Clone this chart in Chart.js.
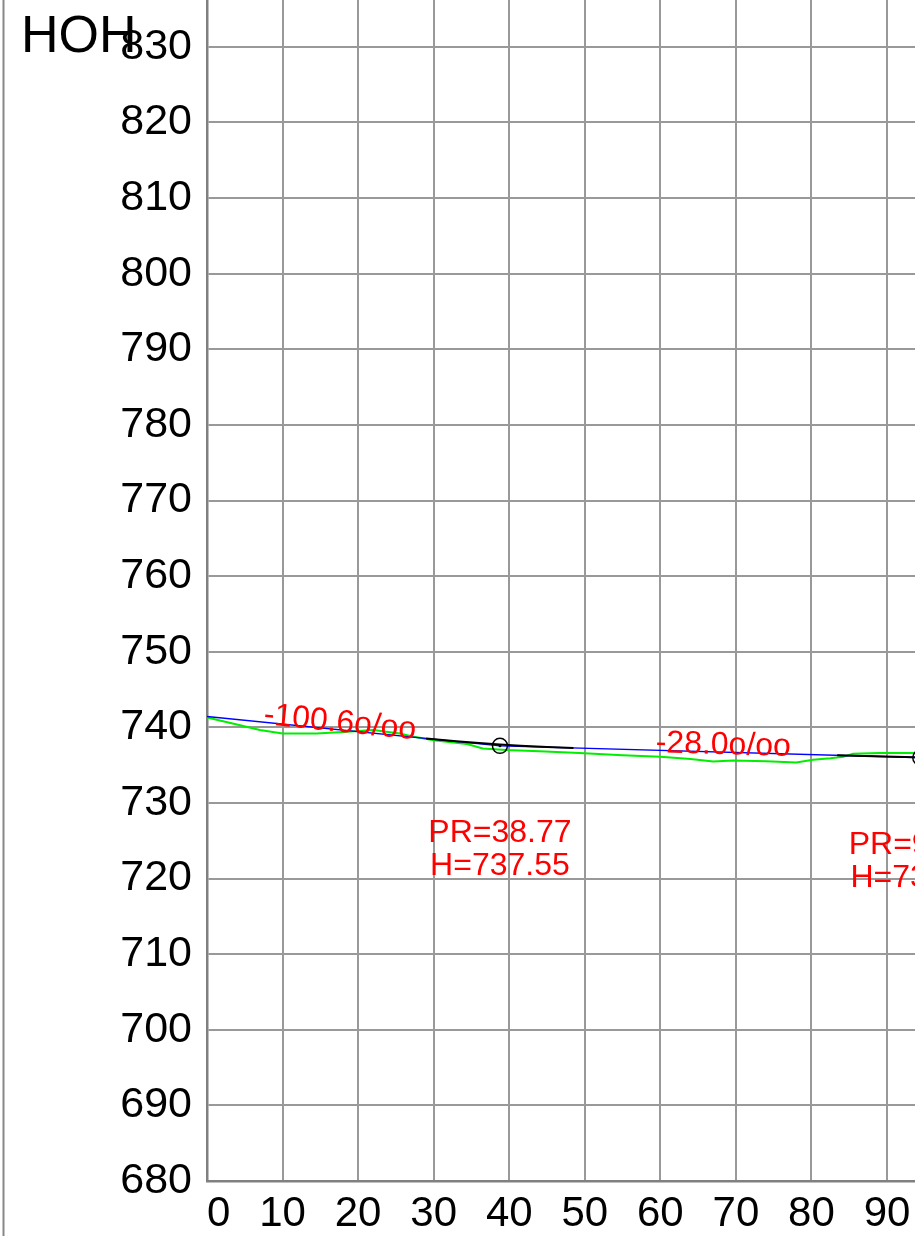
<!DOCTYPE html>
<html>
<head>
<meta charset="utf-8">
<script src="https://cdn.jsdelivr.net/npm/chart.js@4.4.1/dist/chart.umd.min.js"></script>
<style>
  html, body { margin: 0; padding: 0; background: #fff; }
  canvas { display: block; }
</style>
</head>
<body>
<canvas id="profil" width="915" height="1236"></canvas>
<script>
// terrain naturel (vert)
const groundX = [0, 3.4, 7, 10, 14.5, 18, 22, 25.5, 27.2, 30, 34.4, 36.5, 39.6, 44, 49.3, 55, 60, 64, 67, 69.6, 74, 78, 80.2, 82.5, 84.2, 85.5, 89, 93.4, 95];
const groundH = [741.3, 740.5, 739.65, 739.2, 739.2, 739.4, 739.65, 739.2, 738.8, 738.3, 737.8, 737.2, 737.0, 736.85, 736.6, 736.3, 736.1, 735.8, 735.5, 735.6, 735.5, 735.35, 735.7, 735.9, 736.1, 736.5, 736.6, 736.6, 736.6];

// ligne projet (bleu) + sommets
const designX = [0, 38.77, 94.40];
const designH = [741.45, 737.55, 735.99];

// raccordements (noir)
const curve1X = [29.0, 33.0, 36.0, 38.77, 41.5, 45.0, 48.5];
const curve1H = [738.53, 738.16, 737.92, 737.73, 737.56, 737.40, 737.28];
const curve2X = [83.4, 87.0, 91.0, 94.4, 96.0];
const curve2H = [736.30, 736.20, 736.10, 736.02, 735.98];

// pentes
const gradeText = ['-100.6o/oo', '-28.0o/oo'];
const gradeAtX = [17.5, 68.3];

// ticks
const xTicks = [0, 10, 20, 30, 40, 50, 60, 70, 80, 90];
const yTicks = [680, 690, 700, 710, 720, 730, 740, 750, 760, 770, 780, 790, 800, 810, 820, 830];
const xMin = 0, xMax = 93.7;
const yMin = 680, yMax = 836.2;

const FONT = "'Liberation Sans', Arial, Helvetica, sans-serif";

function pts(xs, ys) {
    return xs.map((x, i) => ({x: x, y: ys[i]}));
}

function hAt(x) {
    for (let i = 0; i < designX.length - 1; i++) {
        if (x >= designX[i] && x <= designX[i + 1]) {
            let t = (x - designX[i]) / (designX[i + 1] - designX[i]);
            return designH[i] + t * (designH[i + 1] - designH[i]);
        }
    }
    return designH[designH.length - 1];
}

const fond = {
    id: 'fond',
    beforeDraw(chart) {
        const ctx = chart.ctx;
        ctx.save();
        ctx.fillStyle = '#fff';
        ctx.fillRect(0, 0, chart.width, chart.height);
        ctx.strokeStyle = '#888';
        ctx.lineWidth = 2;
        ctx.beginPath();
        ctx.moveTo(3.5, 0);
        ctx.lineTo(3.5, chart.height);
        ctx.stroke();
        ctx.restore();

        // premier label de l'axe x aligné à gauche
        const s = chart.scales.x;
        s._labelItems = s._computeLabelItems(chart.chartArea);
        if (s._labelItems.length) s._labelItems[0].options.textAlign = 'left';
    }
};

const textes = {
    id: 'textes',
    afterDatasetsDraw(chart) {
        const ctx = chart.ctx;
        const sx = chart.scales.x, sy = chart.scales.y;
        ctx.save();
        ctx.fillStyle = '#ff0000';
        ctx.font = '32px ' + FONT;
        ctx.textAlign = 'center';
        ctx.textBaseline = 'alphabetic';

        // pentes le long de la ligne
        gradeText.forEach((txt, i) => {
            let x1 = sx.getPixelForValue(designX[i]), y1 = sy.getPixelForValue(designH[i]);
            let x2 = sx.getPixelForValue(designX[i + 1]), y2 = sy.getPixelForValue(designH[i + 1]);
            let px = sx.getPixelForValue(gradeAtX[i]);
            let py = sy.getPixelForValue(hAt(gradeAtX[i]));
            ctx.save();
            ctx.translate(px, py);
            ctx.rotate(Math.atan2(y2 - y1, x2 - x1));
            ctx.fillText(txt, 0, 2);
            ctx.restore();
        });

        // sommets
        for (let i = 1; i < designX.length; i++) {
            let px = sx.getPixelForValue(designX[i]);
            let py = sy.getPixelForValue(designH[i]);
            ctx.fillText('PR=' + designX[i].toFixed(2), px, py + 96);
            ctx.fillText('H=' + designH[i].toFixed(2), px, py + 129);
        }

        ctx.fillStyle = '#000';
        ctx.font = '52px ' + FONT;
        ctx.textAlign = 'left';
        ctx.fillText('HOH', 21, 52);
        ctx.restore();
    }
};

new Chart(document.getElementById('profil'), {
    type: 'line',
    data: {
        datasets: [
            {
                data: pts(designX.slice(1), designH.slice(1)),
                showLine: false,
                pointRadius: 1.5,
                pointBackgroundColor: '#000',
                pointBorderWidth: 0,
                order: 0
            },
            {
                data: pts(designX.slice(1), designH.slice(1)),
                showLine: false,
                pointRadius: 7.5,
                pointBackgroundColor: 'rgba(0,0,0,0)',
                pointBorderColor: '#000',
                pointBorderWidth: 1.5,
                order: 1
            },
            {
                data: pts(curve1X, curve1H),
                borderColor: '#000',
                borderWidth: 2,
                pointRadius: 0,
                order: 2
            },
            {
                data: pts(curve2X, curve2H),
                borderColor: '#000',
                borderWidth: 2,
                pointRadius: 0,
                order: 2
            },
            {
                data: pts(designX, designH),
                borderColor: '#0000ff',
                borderWidth: 1.5,
                pointRadius: 0,
                order: 3
            },
            {
                data: pts(groundX, groundH),
                borderColor: '#00ee00',
                borderWidth: 2,
                pointRadius: 0,
                order: 4
            }
        ]
    },
    options: {
        responsive: false,
        animation: false,
        devicePixelRatio: 1,
        layout: {padding: 0, autoPadding: false},
        plugins: {
            legend: {display: false},
            tooltip: {enabled: false}
        },
        scales: {
            x: {
                type: 'linear',
                min: xMin,
                max: xMax,
                afterBuildTicks: s => { s.ticks = xTicks.map(v => ({value: v})); },
                afterFit: s => {
                    s.height = 55;
                    s.paddingLeft = 0; s.paddingRight = 0; s.paddingTop = 0; s.paddingBottom = 0;
                },
                ticks: {
                    color: '#000',
                    font: {family: FONT, size: 42},
                    padding: 8,
                    maxRotation: 0,
                    autoSkip: false
                },
                grid: {color: '#999', lineWidth: 2, drawTicks: false},
                border: {color: '#808080', width: 2.5}
            },
            y: {
                type: 'linear',
                min: yMin,
                max: yMax,
                afterBuildTicks: s => { s.ticks = yTicks.map(v => ({value: v})); },
                afterFit: s => {
                    s.width = 207;
                    s.paddingLeft = 0; s.paddingRight = 0; s.paddingTop = 0; s.paddingBottom = 0;
                },
                ticks: {
                    color: '#000',
                    font: {family: FONT, size: 43},
                    padding: 15,
                    autoSkip: false
                },
                grid: {color: '#999', lineWidth: 2, drawTicks: false},
                border: {color: '#808080', width: 2.5}
            }
        }
    },
    plugins: [fond, textes]
});
</script>
</body>
</html>
